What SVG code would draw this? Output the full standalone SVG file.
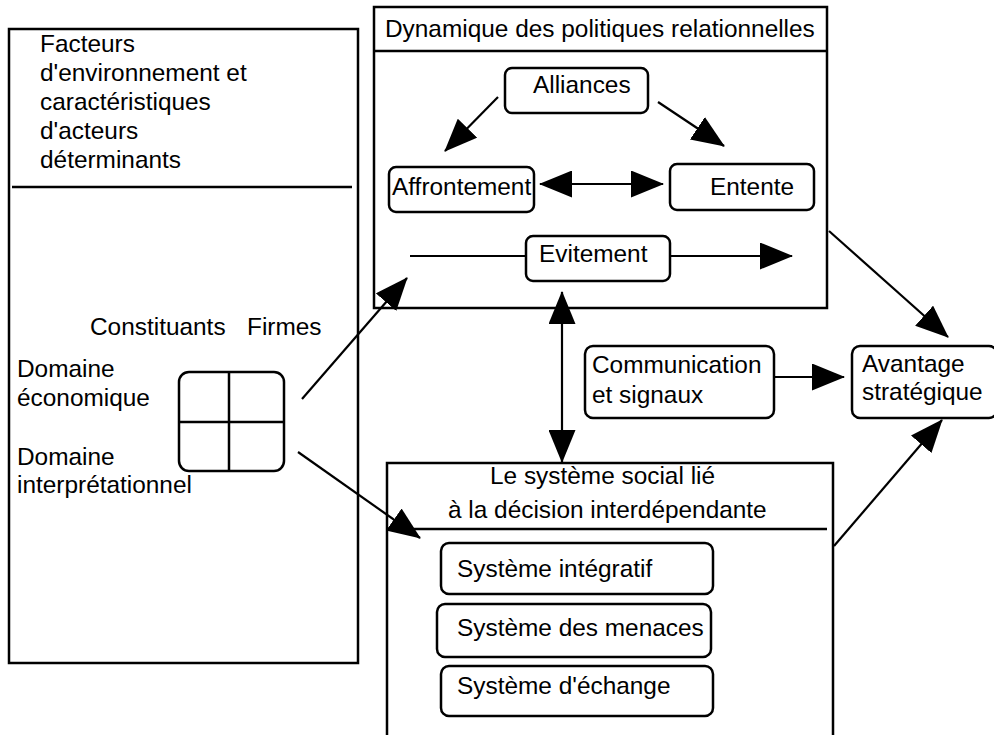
<svg xmlns="http://www.w3.org/2000/svg" width="994" height="735" viewBox="0 0 994 735">
<style>
text{font-family:"Liberation Sans",Arial,sans-serif;font-size:24.4px;fill:#000}
.frame{fill:#fff;stroke:#000;stroke-width:2.5}
.box{fill:#fff;stroke:#000;stroke-width:2.5}
.ln{fill:none;stroke:#000;stroke-width:2.5}
.c{fill:none;stroke:#000;stroke-width:2.2}
.ar{marker-end:url(#ah)}
.ar2{marker-start:url(#ah);marker-end:url(#ah)}
</style>
<defs>
<marker id="ah" viewBox="0 0 33 27" refX="32" refY="13.5" markerWidth="33" markerHeight="27" markerUnits="userSpaceOnUse" orient="auto-start-reverse">
<path d="M0,0 L33,13.5 L0,27 Z" fill="#000"/>
</marker>
</defs>
<rect width="994" height="735" fill="#fff"/>

<g id="facteurs">
<rect class="frame" x="9" y="29" width="349" height="634"/>
<line class="ln" x1="12" y1="187" x2="352" y2="187"/>
<text x="40" y="52">Facteurs</text>
<text x="40" y="81">d'environnement et</text>
<text x="40" y="110">caractéristiques</text>
<text x="40" y="139">d'acteurs</text>
<text x="40" y="168">déterminants</text>
<text x="90" y="335">Constituants</text>
<text x="247" y="335">Firmes</text>
<text x="17" y="377">Domaine</text>
<text x="17" y="406">économique</text>
<text x="17" y="465">Domaine</text>
<text x="17" y="493">interprétationnel</text>
</g>

<g id="grille">
<rect class="box" x="179" y="372" width="105" height="99" rx="10"/>
<line class="ln" x1="229" y1="372" x2="229" y2="471"/>
<line class="ln" x1="179" y1="422" x2="284" y2="422"/>
</g>

<g id="dynamique">
<rect class="frame" x="374" y="7" width="453" height="301"/>
<line class="ln" x1="374" y1="51" x2="827" y2="51"/>
<text x="385" y="37">Dynamique des politiques relationnelles</text>
</g>

<g id="alliances">
<rect class="box" x="505" y="68" width="143" height="45" rx="7"/>
<text x="533" y="93">Alliances</text>
</g>
<g id="affrontement">
<rect class="box" x="389" y="167" width="145" height="45" rx="7"/>
<text x="392" y="195">Affrontement</text>
</g>
<g id="entente">
<rect class="box" x="670" y="164" width="144" height="46" rx="7"/>
<text x="710" y="195">Entente</text>
</g>
<g id="evitement">
<rect class="box" x="526" y="236" width="144" height="45" rx="7"/>
<text x="539" y="262">Evitement</text>
</g>

<g id="social">
<path class="frame" d="M387,740 L387,463 L833,463 L833,740"/>
<line class="ln" x1="387" y1="529" x2="827" y2="529"/>
<text x="490" y="484">Le système social lié</text>
<text x="448" y="518">à la décision interdépendante</text>
</g>
<g id="integratif">
<rect class="box" x="441" y="543" width="272" height="51" rx="8"/>
<text x="457" y="577">Système intégratif</text>
</g>
<g id="menaces">
<rect class="box" x="437" y="604" width="274" height="53" rx="8"/>
<text x="457" y="636">Système des menaces</text>
</g>
<g id="echange">
<rect class="box" x="441" y="666" width="272" height="50" rx="8"/>
<text x="457" y="694">Système d'échange</text>
</g>

<g id="communication">
<rect class="box" x="585" y="346" width="189" height="72" rx="8"/>
<text x="592" y="373">Communication</text>
<text x="592" y="403">et signaux</text>
</g>
<g id="avantage">
<rect class="box" x="852" y="346" width="145" height="72" rx="8"/>
<text x="862" y="372">Avantage</text>
<text x="862" y="400">stratégique</text>
</g>

<g id="connectors">
<line class="c ar" x1="498" y1="97" x2="445" y2="151"/>
<line class="c ar" x1="658" y1="102" x2="724" y2="146"/>
<line class="c ar2" x1="540" y1="184" x2="663" y2="184"/>
<line class="c" x1="410" y1="256" x2="526" y2="256"/>
<line class="c ar" x1="670" y1="256" x2="792" y2="256"/>
<line class="c ar" x1="302" y1="399" x2="407" y2="278"/>
<line class="c ar" x1="298" y1="452" x2="420" y2="538"/>
<line class="c ar2" x1="562" y1="292" x2="562" y2="462"/>
<line class="c ar" x1="774" y1="377" x2="844" y2="377"/>
<line class="c ar" x1="829" y1="231" x2="948" y2="337"/>
<line class="c ar" x1="834" y1="546" x2="942" y2="420"/>
</g>
</svg>
